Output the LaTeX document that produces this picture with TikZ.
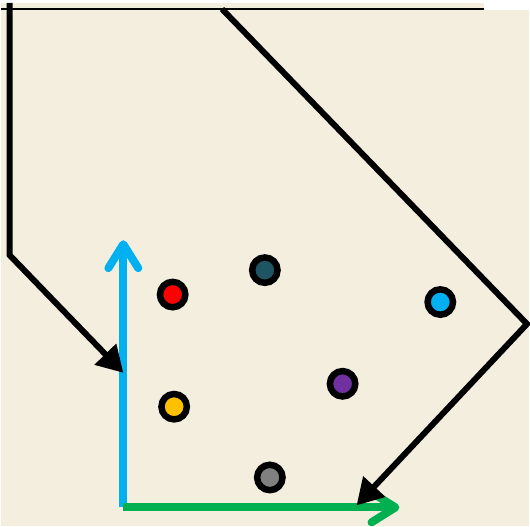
\documentclass[tikz,border=0pt]{standalone}
\usetikzlibrary{arrows.meta}
\definecolor{Parchment}{HTML}{F4EEDF}
\definecolor{DotRed}{HTML}{FF0000}
\definecolor{DotTeal}{HTML}{1F5563}
\definecolor{DotCyan}{HTML}{00B0F0}
\definecolor{DotPurple}{HTML}{7030A0}
\definecolor{DotYellow}{HTML}{FFC000}
\definecolor{DotGray}{HTML}{808080}
\definecolor{AxisBlue}{HTML}{00B0F0}
\definecolor{AxisGreen}{HTML}{00B050}
\tikzset{
  dot/.style={circle, draw=black, line width=6.5pt, minimum size=25.5pt, inner sep=0pt},
  flowline/.style={line width=6pt, draw=black, -{Triangle[length=26pt, width=29pt]}},
  yaxis/.style={line width=8pt, draw=AxisBlue, -{Straight Barb[length=24pt, width=30pt, round]}},
  xaxis/.style={line width=8pt, draw=AxisGreen, -{Straight Barb[length=24pt, width=30pt, round]}}
}
\begin{document}
\begin{tikzpicture}[x=1pt, y=-1pt]
\fill[Parchment] (0,0) rectangle (530,525);
\fill[white] (485,0) rectangle (530,7);
\draw[line width=1.4pt] (0,6) -- (485,6);
% axes
\coordinate (o) at (123,506);
\coordinate (ytip) at (123,238);
\coordinate (xtip) at (400,506);
\draw[yaxis] (o) -- (ytip);
\draw[xaxis] (o) -- (xtip);
% incoming paths
\coordinate (lstart) at (9,0);
\coordinate (lbend) at (9,253);
\coordinate (lhit) at (123,371);
\coordinate (rstart) at (222,6);
\coordinate (rbend) at (528,322);
\coordinate (rhit) at (357,504);
\draw[flowline] (lstart) -- (lbend) -- (lhit);
\draw[flowline] (rstart) -- (rbend) -- (rhit);
% dots
\node[dot, fill=DotRed] (red) at (172.5,292.5) {};
\node[dot, fill=DotTeal] (teal) at (265,268) {};
\node[dot, fill=DotCyan] (cyan) at (441,300) {};
\node[dot, fill=DotPurple] (purple) at (343,382) {};
\node[dot, fill=DotYellow] (yellow) at (174,405) {};
\node[dot, fill=DotGray] (gray) at (270,476) {};
\end{tikzpicture}
\end{document}
